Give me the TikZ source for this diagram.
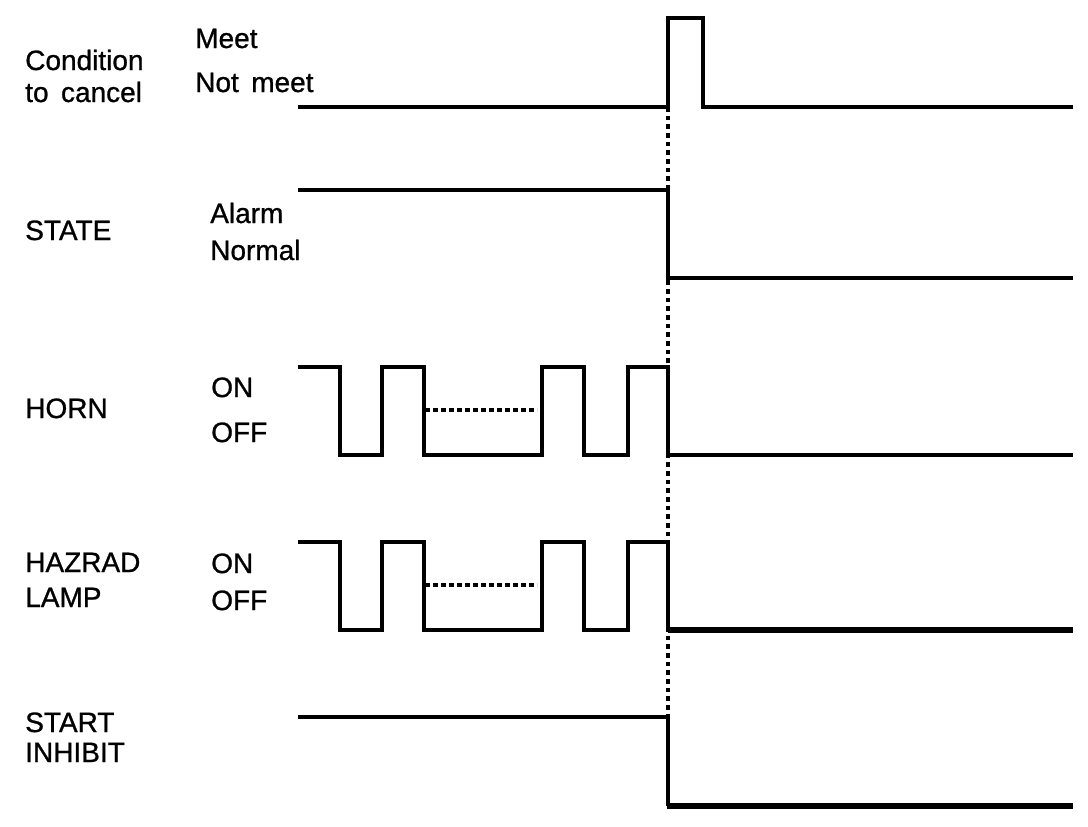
\documentclass[tikz,border=0pt]{standalone}
\usepackage{fontspec}
\setmainfont{Liberation Sans}
\newfontfamily\labelfont{Liberation Sans}[FakeBold=0.9]
\tikzset{
    sig/.style={line width=2.8pt, line join=miter},
    sigheavy/.style={line width=3.8pt},
    guide/.style={line width=2.6pt, dash pattern=on 3.5pt off 3pt},
    filler/.style={line width=2.6pt, dash pattern=on 3.5pt off 2.5pt},
    lbl/.style={anchor=base west, inner sep=0pt, font=\labelfont\fontsize{21}{25}\selectfont}
}
\begin{document}
\begin{tikzpicture}[x=0.75pt, y=-0.75pt]
    \useasboundingbox (0,0) rectangle (1088,826);

    % Signal names
    \node[lbl] (cond1) at (25,70) {Condition};
    \node[lbl] (cond2) at (25,102) {to\, cancel};
    \node[lbl] (state) at (25,240) {STATE};
    \node[lbl] (horn) at (25,418) {HORN};
    \node[lbl] (lamp1) at (25,572) {HAZRAD};
    \node[lbl] (lamp2) at (25,607) {LAMP};
    \node[lbl] (inh1) at (25,732) {START};
    \node[lbl] (inh2) at (25,762) {INHIBIT};

    % Level names
    \node[lbl] (meet) at (195,48) {Meet};
    \node[lbl] (notmeet) at (195,92) {Not\, meet};
    \node[lbl] (alarm) at (210,223) {Alarm};
    \node[lbl] (normal) at (210,260) {Normal};
    \node[lbl] (hornon) at (211,397) {ON};
    \node[lbl] (hornoff) at (211,442) {OFF};
    \node[lbl] (lampon) at (211,573) {ON};
    \node[lbl] (lampoff) at (211,610) {OFF};

    % Moment of cancel
    \draw[guide] (668,107) -- (668,717);

    % Condition to cancel
    \draw[sig] (298,107) -- (668,107) -- (668,18) -- (703,18) -- (703,107) -- (1073,107);

    % State
    \draw[sig] (298,190) -- (668,190) -- (668,278) -- (1073,278);

    % Horn and hazard lamp pulse trains
    \foreach \y in {367,542} {
        \draw[sig] (298,\y) -| (340,\y+88) -| (382,\y) -| (424,\y+88)
            -| (542,\y) -| (584,\y+88) -| (628,\y) -| (668,\y+88);
        \draw[filler] (425,\y+43) -- (537,\y+43);
    }
    \draw[sig] (668,455) -- (1073,455);
    \draw[sigheavy] (668,630) -- (1073,630);

    % Start inhibit
    \draw[sig] (298,717) -- (668,717) -- (668,806);
    \draw[sigheavy] (667,806) -- (1073,806);
\end{tikzpicture}
\end{document}
